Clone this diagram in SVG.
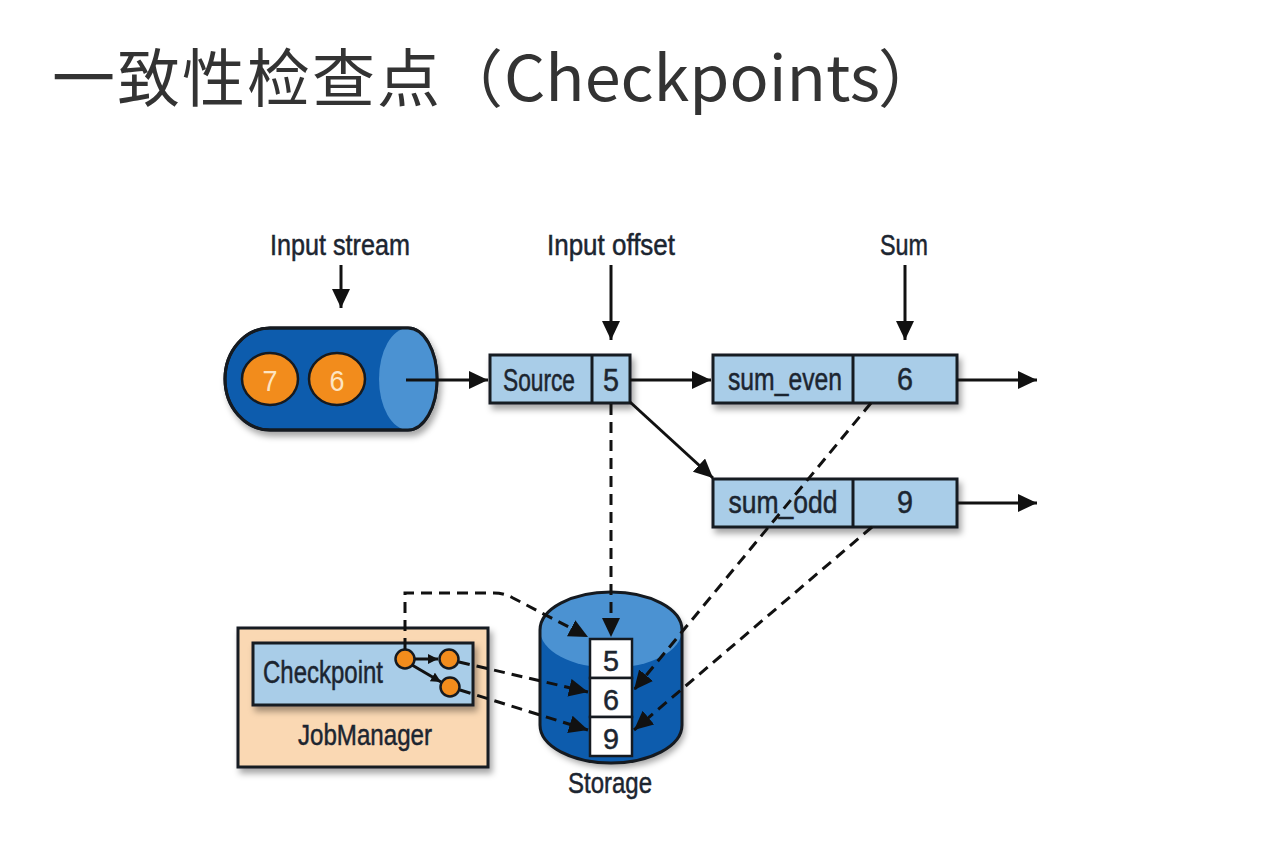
<svg xmlns="http://www.w3.org/2000/svg" width="1268" height="862" viewBox="0 0 1268 862">
<style>
.lbl{font-family:"Liberation Sans","DejaVu Sans",sans-serif;fill:#1c2530;text-anchor:middle;stroke:#1c2530;stroke-width:0.5}
.ttl{font-family:"Noto Sans CJK SC","Noto Sans",sans-serif;fill:#333333}
.box{fill:#a9cde8;stroke:#151a20;stroke-width:3}
.div{stroke:#151a20;stroke-width:3}
.cell{fill:#ffffff;stroke:#151a20;stroke-width:2.5}
.ln{fill:none;stroke:#111;stroke-width:3}
.dash{fill:none;stroke:#111;stroke-width:3;stroke-dasharray:11 7}
.orc{fill:#f28c1c;stroke:#151a20;stroke-width:2.5}
</style>
<defs>
<marker id="ah" markerUnits="userSpaceOnUse" markerWidth="20" markerHeight="20" refX="19" refY="9" orient="auto">
<path d="M0,0 L19,9 L0,18 Z" fill="#111"/>
</marker>
<marker id="ahs" markerUnits="userSpaceOnUse" markerWidth="12" markerHeight="12" refX="10" refY="5" orient="auto">
<path d="M0,0 L10,5 L0,10 Z" fill="#111"/>
</marker>
<filter id="sh" x="-10%" y="-10%" width="130%" height="140%">
<feDropShadow dx="3" dy="5" stdDeviation="3" flood-color="#000" flood-opacity="0.35"/>
</filter>
</defs>
<rect width="1268" height="862" fill="#ffffff"/>
<g id="title">
<text class="ttl" x="52" y="101" font-size="63" textLength="388" lengthAdjust="spacing">一致性检查点</text>
<text class="ttl" x="440" y="101" font-size="63">（</text>
<text class="ttl" x="504" y="101" font-size="63" textLength="376" lengthAdjust="spacingAndGlyphs">Checkpoints</text>
<text class="ttl" x="878" y="101" font-size="63">）</text>
</g>

<g id="label-input-stream"><text class="lbl" x="340" y="255" font-size="29" textLength="140" lengthAdjust="spacingAndGlyphs">Input stream</text></g>
<g id="label-input-offset"><text class="lbl" x="611" y="255" font-size="29" textLength="128" lengthAdjust="spacingAndGlyphs">Input offset</text></g>
<g id="label-sum"><text class="lbl" x="904" y="255" font-size="29" textLength="48" lengthAdjust="spacingAndGlyphs">Sum</text></g>

<g id="input-stream">
<path d="M270,328 L408,328 A29,51 0 0 1 408,430 L270,430 A45,51 0 0 1 270,328 Z" fill="#0a5cad" stroke="#151a20" stroke-width="3" filter="url(#sh)"/>
<path d="M408,328 A29,51 0 0 1 408,430 A29,51 0 0 1 408,328 Z" fill="#4b92d2"/>
<path d="M270,328 L408,328 A29,51 0 0 1 408,430 L270,430 A45,51 0 0 1 270,328 Z" fill="none" stroke="#151a20" stroke-width="3"/>
<ellipse class="orc" cx="270" cy="379" rx="28" ry="26"/>
<ellipse class="orc" cx="337" cy="379" rx="28" ry="26"/>
<text x="270" y="391" font-family="'Liberation Sans',sans-serif" font-size="30" fill="#fde4c2" text-anchor="middle" textLength="15" lengthAdjust="spacingAndGlyphs">7</text>
<text x="337" y="391" font-family="'Liberation Sans',sans-serif" font-size="30" fill="#fde4c2" text-anchor="middle" textLength="15" lengthAdjust="spacingAndGlyphs">6</text>
</g>

<g id="source">
<rect class="box" x="490" y="355" width="140" height="48" filter="url(#sh)"/>
<line class="div" x1="592" y1="355" x2="592" y2="403"/>
<text class="lbl" x="539" y="391" font-size="31" textLength="72" lengthAdjust="spacingAndGlyphs">Source</text>
<text class="lbl" x="611" y="391" font-size="31" textLength="16" lengthAdjust="spacingAndGlyphs">5</text>
</g>

<g id="sum-even">
<rect class="box" x="713" y="355" width="244" height="48" filter="url(#sh)"/>
<line class="div" x1="853" y1="355" x2="853" y2="403"/>
<text class="lbl" x="785" y="390" font-size="31" textLength="114" lengthAdjust="spacingAndGlyphs">sum_even</text>
<text class="lbl" x="905" y="390" font-size="31" textLength="16" lengthAdjust="spacingAndGlyphs">6</text>
</g>

<g id="sum-odd">
<rect class="box" x="713" y="479" width="244" height="48" filter="url(#sh)"/>
<line class="div" x1="853" y1="479" x2="853" y2="527"/>
<text class="lbl" x="783" y="513" font-size="31" textLength="109" lengthAdjust="spacingAndGlyphs">sum_odd</text>
<text class="lbl" x="905" y="513" font-size="31" textLength="16" lengthAdjust="spacingAndGlyphs">9</text>
</g>

<g id="jobmanager">
<rect x="238" y="628" width="250" height="139" fill="#fad8b3" stroke="#151a20" stroke-width="3" filter="url(#sh)"/>
<rect class="box" x="253" y="643" width="220" height="62" filter="url(#sh)"/>
<text class="lbl" x="323" y="683" font-size="31" textLength="120" lengthAdjust="spacingAndGlyphs">Checkpoint</text>
<text class="lbl" x="365" y="745" font-size="30" textLength="134" lengthAdjust="spacingAndGlyphs">JobManager</text>
<circle class="orc" cx="405" cy="659" r="9.5"/>
<circle class="orc" cx="449" cy="659" r="9.5"/>
<circle class="orc" cx="450" cy="687" r="9.5"/>
<line class="ln" x1="415" y1="659" x2="438" y2="659" stroke-width="2" marker-end="url(#ahs)"/>
<line class="ln" x1="412" y1="665" x2="441" y2="682" stroke-width="2" marker-end="url(#ahs)"/>
</g>

<g id="storage">
<path d="M540,630 A71,38 0 0 1 682,630 L682,725 A71,38 0 0 1 540,725 Z" fill="#0a5cad" filter="url(#sh)"/>
<ellipse cx="611" cy="630" rx="71" ry="38" fill="#4b92d2"/>
<path d="M540,630 A71,38 0 0 1 682,630 L682,725 A71,38 0 0 1 540,725 Z" fill="none" stroke="#151a20" stroke-width="3"/>
<rect class="cell" x="590" y="639" width="42" height="39"/>
<rect class="cell" x="590" y="678" width="42" height="39"/>
<rect class="cell" x="590" y="717" width="42" height="39"/>
<text class="lbl" x="611" y="671" font-size="30" textLength="16" lengthAdjust="spacingAndGlyphs">5</text>
<text class="lbl" x="611" y="710" font-size="30" textLength="16" lengthAdjust="spacingAndGlyphs">6</text>
<text class="lbl" x="611" y="749" font-size="30" textLength="16" lengthAdjust="spacingAndGlyphs">9</text>
<text class="lbl" x="610" y="793" font-size="29" textLength="84" lengthAdjust="spacingAndGlyphs">Storage</text>
</g>

<g id="connectors">
<line class="ln" x1="341" y1="265" x2="341" y2="308" marker-end="url(#ah)"/>
<line class="ln" x1="611" y1="265" x2="611" y2="340" marker-end="url(#ah)"/>
<line class="ln" x1="905" y1="265" x2="905" y2="340" marker-end="url(#ah)"/>
<line class="ln" x1="406" y1="380" x2="488" y2="380" marker-end="url(#ah)"/>
<line class="ln" x1="630" y1="380" x2="711" y2="380" marker-end="url(#ah)"/>
<line class="ln" x1="630" y1="402" x2="713" y2="478" marker-end="url(#ah)"/>
<line class="ln" x1="957" y1="380" x2="1037" y2="380" marker-end="url(#ah)"/>
<line class="ln" x1="957" y1="503" x2="1037" y2="503" marker-end="url(#ah)"/>
<path class="dash" d="M611,404 L611,637" marker-end="url(#ah)"/>
<path class="dash" d="M405,649 L405,593 L494,593 Q504,593 513,598 L588,637" marker-end="url(#ah)"/>
<path class="dash" d="M459,662 L588,692" marker-end="url(#ah)"/>
<path class="dash" d="M460,690 L588,730" marker-end="url(#ah)"/>
<path class="dash" d="M871,403 L634,690" marker-end="url(#ah)"/>
<path class="dash" d="M872,527 L634,730" marker-end="url(#ah)"/>
</g>
</svg>
